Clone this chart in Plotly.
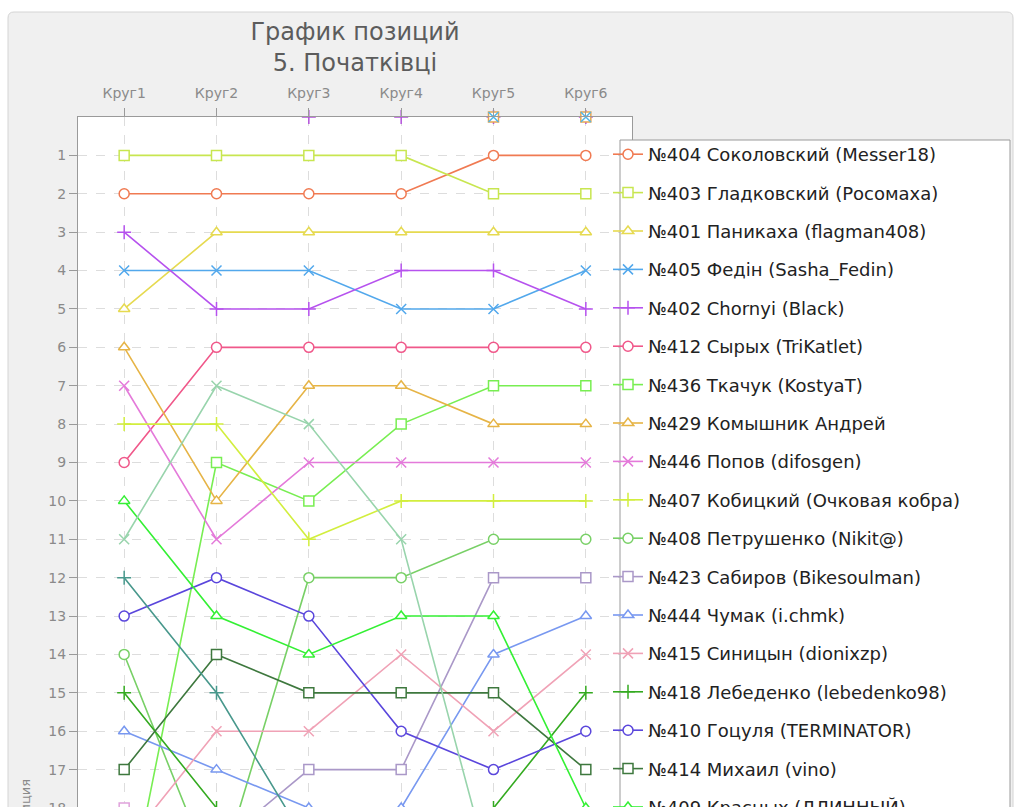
import plotly.graph_objects as go

# ---------------- data ----------------
rounds = ["Круг1", "Круг2", "Круг3", "Круг4", "Круг5", "Круг6"]
position_ticks = list(range(1, 36))

names = [
    "№404 Соколовский (Messer18)",
    "№403 Гладковский (Росомаха)",
    "№401 Паникаха (flagman408)",
    "№405 Федін (Sasha_Fedin)",
    "№402 Chornyi (Black)",
    "№412 Сырых (TriKatlet)",
    "№436 Ткачук (KostyaT)",
    "№429 Комышник Андрей",
    "№446 Попов (difosgen)",
    "№407 Кобицкий (Очковая кобра)",
    "№408 Петрушенко (Nikit@)",
    "№423 Сабиров (Bikesoulman)",
    "№444 Чумак (i.chmk)",
    "№415 Синицын (dionixzp)",
    "№418 Лебеденко (lebedenko98)",
    "№410 Гоцуля (TERMINATOR)",
    "№414 Михаил (vino)",
    "№409 Красных (ДЛИННЫЙ)",
]

p404 = [2, 2, 2, 2, 1, 1]
p403 = [1, 1, 1, 1, 2, 2]
p401 = [5, 3, 3, 3, 3, 3]
p405 = [4, 4, 4, 5, 5, 4]
p402 = [3, 5, 5, 4, 4, 5]
p412 = [9, 6, 6, 6, 6, 6]
p436 = [21, 9, 10, 8, 7, 7]
p429 = [6, 10, 7, 7, 8, 8]
p446 = [7, 11, 9, 9, 9, 9]
p407 = [8, 8, 11, 10, 10, 10]
p408 = [14, 20, 12, 12, 11, 11]
p423 = [23, 19, 17, 17, 12, 12]
p444 = [16, 17, 18, 18, 14, 13]
p415 = [19, 16, 16, 14, 16, 14]
p418 = [15, 18, 20, 19, 18, 15]
p410 = [13, 12, 13, 16, 17, 16]
p414 = [17, 14, 15, 15, 15, 17]
p409 = [10, 13, 14, 13, 13, 18]

# participants whose legend entries are below the visible area
u_a = [11, 7, 8, 11, 20, 21]
u_b = [12, 15, 19, 20, 21, 22]
u_c = [18, 22, 21, 22, 23, 24]
# participants with position 0 (not classified) in later rounds
u_d = [None, None, 0, 0, 0, 0]
u_e = [None, None, None, None, 0, 0]
u_f = [None, None, None, None, 0, 0]

named_values = [p404, p403, p401, p405, p402, p412, p436, p429, p446,
                p407, p408, p423, p444, p415, p418, p410, p414, p409]
named_colors = ["#f07a52", "#c8e650", "#e6da50", "#52a8ec", "#b652ee",
                "#f0588a", "#78ee52", "#e6b446", "#e47ada", "#d2ee3e",
                "#78d066", "#aa98c8", "#7898f0", "#f0a2b6", "#34aa20",
                "#5a46dc", "#3e783e", "#34f034"]
symbol_cycle = ["circle", "square", "triangle-up", "x-thin", "cross-thin"]

line_values = [u_a, u_b, u_c]
line_colors = ["#98d4ac", "#48988c", "#e0a2dc"]
line_symbols = ["x-thin", "cross-thin", "square"]

zero_values = [u_d, u_e, u_f]
zero_colors = ["#b452dc", "#e6a652", "#52b6e6"]
zero_symbols = ["cross-thin", "square", "x-thin"]

# ---------------- geometry ----------------
W, H = 1023, 1530
ML, MR, MT, MB = 78, 391, 117, 31
PW = W - ML - MR
PH = H - MT - MB


def px_to_paper(x, y):
    return (x - ML) / PW, 1 - (y - MT) / PH


fig = go.Figure()

for i, (nm, vals, col) in enumerate(zip(names, named_values, named_colors)):
    fig.add_trace(go.Scatter(
        x=rounds, y=vals, name=nm, mode="lines+markers",
        legendgroup="g%d" % i,
        line=dict(color=col, width=1.6),
        marker=dict(symbol=symbol_cycle[i % 5], size=10, color="white",
                    line=dict(color=col, width=1.5)),
    ))

for vals, col, sym in zip(line_values, line_colors, line_symbols):
    fig.add_trace(go.Scatter(
        x=rounds, y=vals, mode="lines+markers", showlegend=False,
        line=dict(color=col, width=1.6),
        marker=dict(symbol=sym, size=10, color="white",
                    line=dict(color=col, width=1.5)),
    ))

for vals, col, sym in zip(zero_values, zero_colors, zero_symbols):
    fig.add_trace(go.Scatter(
        x=rounds, y=vals, mode="markers", showlegend=False,
        marker=dict(symbol=sym, size=10, color="white",
                    line=dict(color=col, width=1.5)),
        cliponaxis=False,
    ))

# rounded background panel
x0, y0 = px_to_paper(8, 12)
x1, y1 = px_to_paper(1013, H + 20)
rx = 6 / PW
ry = 6 / PH
panel_path = (
    f"M {x0+rx},{y0} L {x1-rx},{y0} Q {x1},{y0} {x1},{y0-ry} "
    f"L {x1},{y1} L {x0},{y1} L {x0},{y0-ry} Q {x0},{y0} {x0+rx},{y0} Z"
)

# legend box
lx0, ly0 = px_to_paper(620, 140)
lx1, ly1 = px_to_paper(1010, 140 + 18 * 38.4 + 30)

fig.update_layout(
    width=W, height=H,
    margin=dict(l=ML, r=MR, t=MT, b=MB, pad=0),
    paper_bgcolor="white",
    plot_bgcolor="rgba(0,0,0,0)",
    font=dict(family="DejaVu Sans", color="#888888", size=13),
    title=dict(
        text="График позиций<br>5. Початківці",
        x=0.5, xref="paper", xanchor="center",
        y=1 - 40 / H, yref="container", yanchor="top",
        font=dict(family="DejaVu Sans", size=24, color="#5c5c5c"),
    ),
    shapes=[
        dict(type="path", xref="paper", yref="paper", path=panel_path,
             fillcolor="#f0f0f0", line=dict(color="#d4d4d4", width=1), layer="below"),
        dict(type="rect", xref="paper", yref="paper", x0=0, x1=1, y0=0, y1=1,
             fillcolor="white", line=dict(width=0), layer="below"),
        dict(type="rect", xref="paper", yref="paper", x0=lx0, x1=lx1, y0=ly1, y1=ly0,
             fillcolor="white", line=dict(color="#9a9a9a", width=1), layer="above"),
    ],
    xaxis=dict(
        type="category", side="top", range=[-0.5, 5.5],
        showgrid=True, gridcolor="#dddddd", griddash="dash", gridwidth=1,
        showline=True, linecolor="#9a9a9a", linewidth=1, mirror=True,
        ticks="outside", ticklen=8, tickcolor="#9a9a9a",
        ticklabelstandoff=4,
        tickfont=dict(size=14, color="#8a8a8a"), zeroline=False,
    ),
    yaxis=dict(
        range=[36, 0], tickvals=position_ticks,
        showgrid=True, gridcolor="#dddddd", griddash="dash", gridwidth=1,
        showline=True, linecolor="#9a9a9a", linewidth=1, mirror=True,
        ticks="outside", ticklen=8, tickcolor="#9a9a9a",
        tickfont=dict(size=14, color="#8a8a8a"), zeroline=False,
        title=dict(text="Позиция", font=dict(size=13, color="#8a8a8a"), standoff=14),
    ),
    legend=dict(
        x=(608 - ML) / PW, xanchor="left",
        y=1 - (136 - MT) / PH, yanchor="top",
        bgcolor="rgba(0,0,0,0)", borderwidth=0,
        font=dict(family="DejaVu Sans", size=18, color="#222222"),
        tracegroupgap=12.0, itemwidth=30, traceorder="grouped",
    ),
)

fig.write_html(
    "out.html",
    config={"displayModeBar": False},
    post_script="document.body.style.margin='0';document.body.style.overflow='hidden';"
                "document.documentElement.style.overflow='hidden';",
)
